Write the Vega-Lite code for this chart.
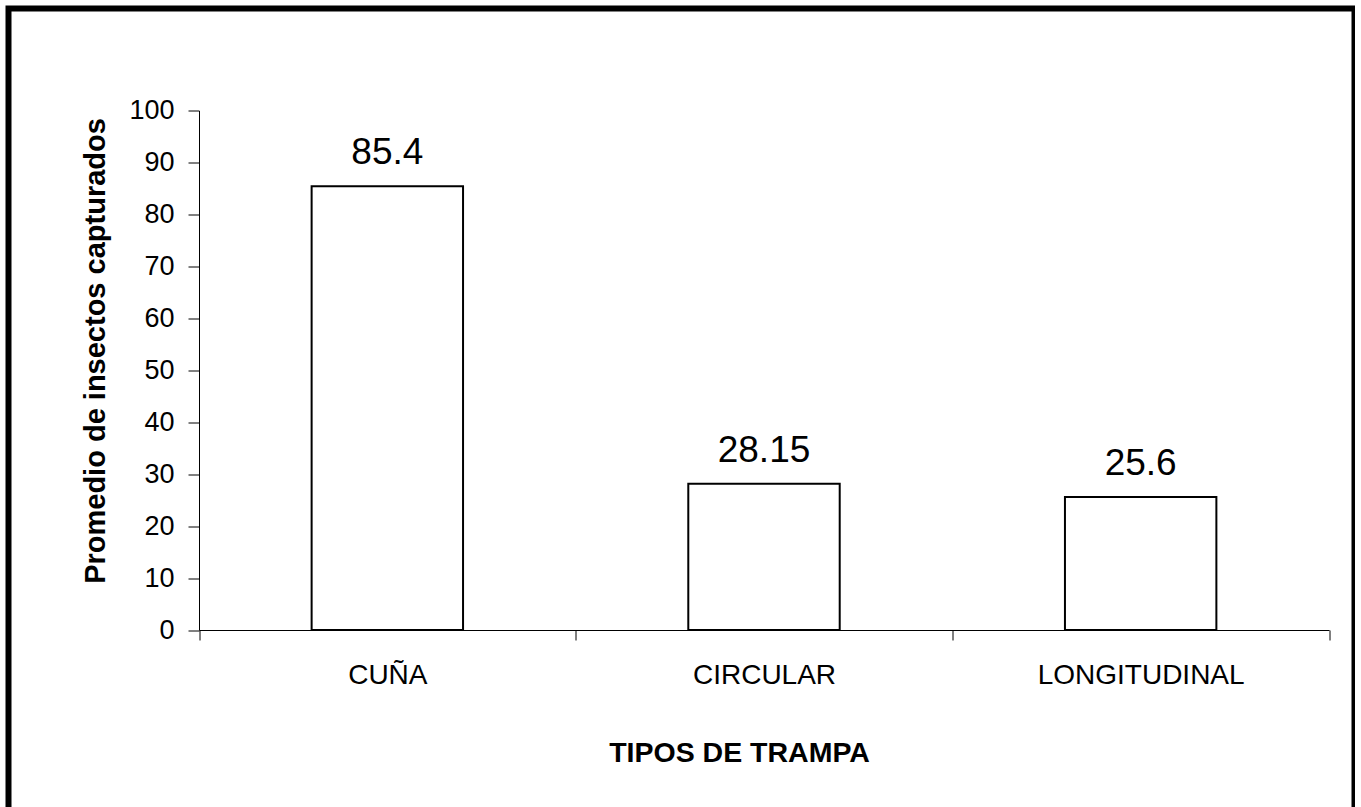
{
  "$schema": "https://vega.github.io/schema/vega-lite/v6.json",
  "autosize": {"type": "none"},
  "padding": {"left": 8.5, "top": 8.5, "right": 0, "bottom": 0},
  "width": 1346,
  "height": 830,
  "background": "white",
  "config": {
    "view": {"stroke": "#000000", "strokeWidth": 6},
    "font": "Liberation Sans"
  },
  "data": {
    "values": [
      {"tipo": "CUÑA", "valor": 85.4},
      {"tipo": "CIRCULAR", "valor": 28.15},
      {"tipo": "LONGITUDINAL", "valor": 25.6}
    ]
  },
  "encoding": {
    "x": {
      "field": "tipo",
      "type": "nominal",
      "sort": null,
      "scale": {"range": [190.5, 1320.5], "paddingInner": 0, "paddingOuter": 0},
      "axis": {
        "title": "TIPOS DE TRAMPA",
        "orient": "bottom",
        "offset": -208.5,
        "tickBand": "extent",
        "tickSize": 10,
        "tickColor": "#000000",
        "tickWidth": 1,
        "domainColor": "#000000",
        "domainWidth": 1,
        "labelFontSize": 28,
        "labelColor": "#000000",
        "labelPadding": 21,
        "labelAngle": 0,
        "labelLimit": 0,
        "titleFontSize": 28.5,
        "titleFontWeight": "bold",
        "titleColor": "#000000",
        "titleX": 730.5,
        "titleY": 131,
        "titleBaseline": "alphabetic",
        "titleAlign": "center",
        "grid": false
      }
    },
    "y": {
      "field": "valor",
      "type": "quantitative",
      "scale": {"domain": [0, 100], "range": [621.5, 102], "nice": false, "zero": true},
      "axis": {
        "title": "Promedio de insectos capturados",
        "orient": "left",
        "offset": -190.5,
        "values": [0, 10, 20, 30, 40, 50, 60, 70, 80, 90, 100],
        "tickSize": 11,
        "tickColor": "#000000",
        "tickWidth": 1,
        "domainColor": "#000000",
        "domainWidth": 1,
        "labelFontSize": 27,
        "labelColor": "#000000",
        "labelPadding": 14,
        "titleFontSize": 29,
        "titleFontWeight": "bold",
        "titleColor": "#000000",
        "titleAngle": -90,
        "titleX": -95,
        "titleY": 342,
        "titleBaseline": "alphabetic",
        "titleAlign": "center",
        "grid": false
      }
    }
  },
  "layer": [
    {"mark": {"type": "bar", "width": {"band": 0.402}, "fill": "#ffffff", "stroke": "#000000", "strokeWidth": 2}},
    {
      "mark": {"type": "text", "dy": -22, "baseline": "alphabetic", "align": "center", "fontSize": 37, "color": "#000000"},
      "encoding": {"text": {"field": "valor", "type": "quantitative"}}
    }
  ]
}
